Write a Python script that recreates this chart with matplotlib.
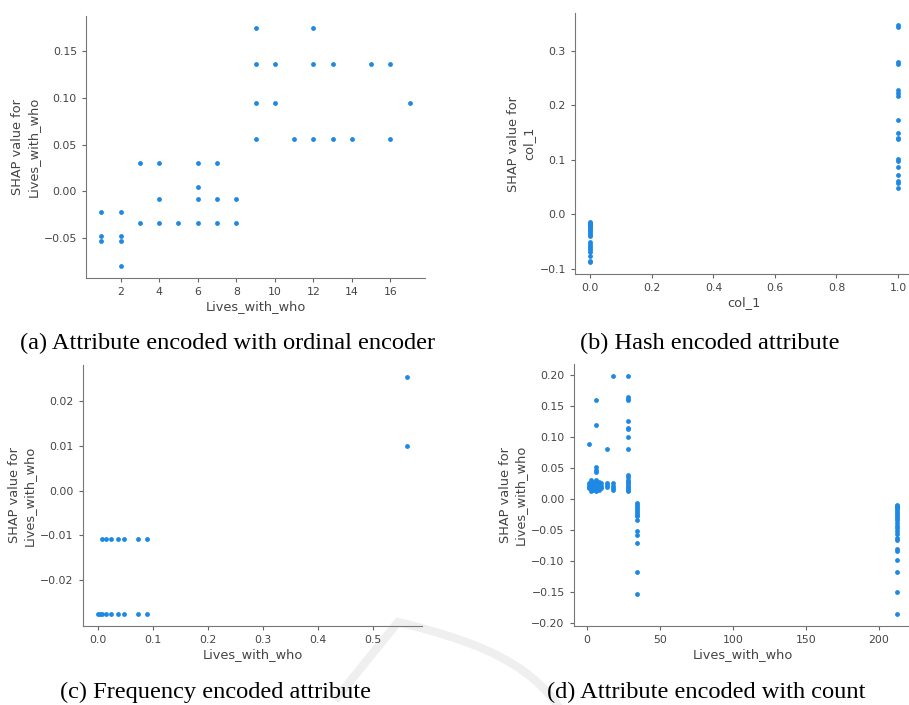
import numpy as np
import matplotlib.pyplot as plt
from matplotlib.path import Path
from matplotlib.patches import PathPatch

# (a) ordinal encoded values vs SHAP value
a_x = [1, 1, 1, 2, 2, 2, 2, 3, 3, 4, 4, 4, 5, 6, 6, 6, 6, 7, 7, 7, 8, 8,
       9, 9, 9, 9, 10, 10, 11, 12, 12, 12, 13, 13, 14, 15, 16, 16, 17]
a_y = [-0.022, -0.048, -0.053, -0.022, -0.048, -0.053, -0.080, 0.030, -0.034,
       0.030, -0.008, -0.034, -0.034, 0.030, 0.005, -0.008, -0.034,
       0.030, -0.008, -0.034, -0.008, -0.034,
       0.175, 0.136, 0.095, 0.056, 0.136, 0.095, 0.056, 0.175, 0.136, 0.056,
       0.136, 0.056, 0.056, 0.136, 0.136, 0.056, 0.095]

# (b) hash encoded column
b_y0 = [-0.013, -0.015, -0.017, -0.019, -0.021, -0.023, -0.025, -0.028, -0.031,
        -0.034, -0.037, -0.040, -0.050, -0.055, -0.058, -0.062, -0.065, -0.068,
        -0.077, -0.086, -0.088]
b_y1 = [0.347, 0.343, 0.280, 0.276, 0.228, 0.223, 0.217, 0.173, 0.150, 0.141,
        0.138, 0.101, 0.098, 0.087, 0.073, 0.061, 0.058, 0.049]

# (c) frequency encoded
c_x_low = [0.001, 0.0036, 0.0072, 0.0157, 0.024, 0.0367, 0.0476, 0.0735, 0.0897]
c_x_up = [0.0072, 0.0156, 0.024, 0.0367, 0.0476, 0.0735, 0.0897]
c_x_big = 0.561
c_y_low, c_y_up = -0.0275, -0.0107
c_y_big = [0.0253, 0.0099]

# (d) count encoded
d_groups = {
    1.5: [0.089, 0.025, 0.022, 0.020, 0.018],
    2.5: [0.030, 0.024, 0.019, 0.016, 0.013],
    4: [0.027, 0.021, 0.017, 0.014],
    6: [0.160, 0.119, 0.051, 0.047, 0.043, 0.030, 0.025, 0.022, 0.019, 0.016, 0.013],
    8: [0.028, 0.022, 0.018, 0.015],
    10: [0.026, 0.021, 0.017],
    14: [0.080, 0.026, 0.022, 0.019],
    18: [0.198, 0.026, 0.021, 0.017, 0.014],
    28: [0.198, 0.164, 0.161, 0.159, 0.125, 0.115, 0.112, 0.100, 0.081, 0.039,
         0.035, 0.031, 0.028, 0.025, 0.022, 0.020, 0.018, 0.015, 0.013],
    34: [-0.007, -0.010, -0.013, -0.016, -0.019, -0.022, -0.025, -0.028, -0.034,
         -0.052, -0.058, -0.071, -0.117, -0.153],
    212: [-0.009, -0.011, -0.013, -0.015, -0.018, -0.021, -0.024, -0.027, -0.030,
          -0.034, -0.038, -0.043, -0.047, -0.052, -0.057, -0.062, -0.066, -0.081,
          -0.084, -0.098, -0.118, -0.149, -0.185],
}

captions = ['(a) Attribute encoded with ordinal encoder', '(b) Hash encoded attribute',
            '(c) Frequency encoded attribute', '(d) Attribute encoded with count']

blue = '#1E88E5'
W, H = 909, 705
fig = plt.figure(figsize=(W / 100, H / 100), dpi=100)


def make_ax(left, right, top, bottom):
    return fig.add_axes([left / W, 1 - bottom / H, (right - left) / W, (bottom - top) / H])


def style(ax, xlabel, ylabel):
    for s in ['top', 'right']:
        ax.spines[s].set_visible(False)
    for s in ['left', 'bottom']:
        ax.spines[s].set_color('#777777')
    ax.tick_params(colors='#666666', labelcolor='#444444', labelsize=7.8, length=3)
    ax.set_xlabel(xlabel, fontsize=9.3, color='#444444', labelpad=2)
    ax.set_ylabel(ylabel, fontsize=9.3, color='#444444', labelpad=3)


# faint watermark stroke behind everything
wm = fig.add_axes([0, 0, 1, 1])
wm.set_xlim(0, W)
wm.set_ylim(H, 0)
wm.axis('off')
verts = [(335, 700), (398, 622), (470, 640), (530, 660), (562, 712)]
codes = [Path.MOVETO, Path.LINETO, Path.CURVE4, Path.CURVE4, Path.CURVE4]
wm.add_patch(PathPatch(Path(verts, codes), facecolor='none', edgecolor='#efefef',
                       lw=6, capstyle='butt', joinstyle='miter'))

# (a)
ax1 = make_ax(86, 425, 16, 278)
ax1.scatter(a_x, a_y, s=12, color=blue, linewidth=0)
ax1.set_xticks([2, 4, 6, 8, 10, 12, 14, 16])
ax1.set_yticks([-0.05, 0.0, 0.05, 0.10, 0.15])
style(ax1, 'Lives_with_who', 'SHAP value for\nLives_with_who')

# (b)
ax2 = make_ax(575, 913.4, 13.3, 274.3)
ax2.scatter([0.0] * len(b_y0) + [1.0] * len(b_y1), b_y0 + b_y1, s=12, color=blue, linewidth=0)
ax2.set_xticks([0.0, 0.2, 0.4, 0.6, 0.8, 1.0])
ax2.set_yticks([-0.1, 0.0, 0.1, 0.2, 0.3])
style(ax2, 'col_1', 'SHAP value for\ncol_1')

# (c)
ax3 = make_ax(82.7, 422.3, 365, 626)
cx = c_x_low + c_x_up + [c_x_big] * len(c_y_big)
cy = [c_y_low] * len(c_x_low) + [c_y_up] * len(c_x_up) + c_y_big
ax3.scatter(cx, cy, s=12, color=blue, linewidth=0)
ax3.set_xticks([0.0, 0.1, 0.2, 0.3, 0.4, 0.5])
ax3.set_yticks([-0.02, -0.01, 0.0, 0.01, 0.02])
style(ax3, 'Lives_with_who', 'SHAP value for\nLives_with_who')

# (d)
ax4 = make_ax(573.7, 912, 364, 626)
dx = [k for k, v in d_groups.items() for _ in v]
dy = [y for v in d_groups.values() for y in v]
ax4.scatter(dx, dy, s=12, color=blue, linewidth=0)
ax4.set_xticks([0, 50, 100, 150, 200])
ax4.set_yticks([-0.20, -0.15, -0.10, -0.05, 0.0, 0.05, 0.10, 0.15, 0.20])
style(ax4, 'Lives_with_who', 'SHAP value for\nLives_with_who')

for ax in [ax1, ax2, ax3, ax4]:
    ax.patch.set_alpha(0)

# captions
cap = dict(family='Liberation Serif', fontsize=17.6, ha='center', va='center')
fig.text(228 / W, 1 - 343 / H, captions[0], **cap)
fig.text(710 / W, 1 - 343 / H, captions[1], **cap)
fig.text(215 / W, 1 - 692 / H, captions[2], **cap)
fig.text(706 / W, 1 - 692 / H, captions[3], **cap)

fig.savefig('out.png', dpi=100)
